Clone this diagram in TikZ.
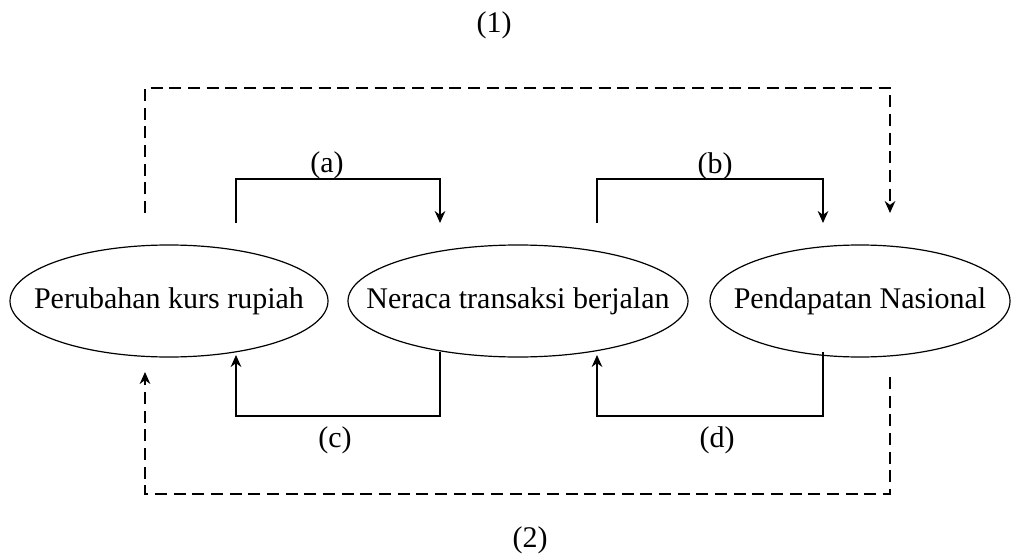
\documentclass[tikz,border=0pt]{standalone}
\usepackage{fontspec}
\setmainfont{Liberation Serif}
\usetikzlibrary{arrows.meta}
\begin{document}
\begin{tikzpicture}[x=0.75pt,y=-0.75pt,
  every node/.style={font=\fontsize{22.5}{27}\selectfont},
  ovalline/.style={draw,line width=0.9pt},
  lbl/.style={inner sep=0pt},
  solidarrow/.style={line width=1.1pt,-{Stealth[length=9pt,width=8pt]}},
  dasharrow/.style={line width=1.1pt,dash pattern=on 9pt off 5pt,-{Stealth[length=9pt,width=8pt]}}]
\useasboundingbox (0,0) rectangle (1020,556);
% ellipses
\node[lbl] (e1) at (169,301) {Perubahan kurs rupiah};
\node[lbl] (e2) at (518,301) {Neraca transaksi berjalan};
\node[lbl] (e3) at (860,301) {Pendapatan Nasional};
\draw[ovalline] (e1.center) ellipse [x radius=119.25pt, y radius=42pt];
\draw[ovalline] (e2.center) ellipse [x radius=127.5pt, y radius=42pt];
\draw[ovalline] (e3.center) ellipse [x radius=112.5pt, y radius=42pt];
% labels
\node[lbl] (l1) at (494,25) {(1)};
\node[lbl] (l2) at (530,540) {(2)};
\node[lbl] (la) at (327,165) {(a)};
\node[lbl] (lb) at (715,166) {(b)};
\node[lbl] (lc) at (335,440) {(c)};
\node[lbl] (ld) at (717,440) {(d)};
% connector end points
\coordinate (a1) at (236,223);
\coordinate (a2) at (440,223);
\coordinate (b1) at (597,223);
\coordinate (b2) at (823,223);
\coordinate (c1) at (440,352);
\coordinate (c2) at (236,355);
\coordinate (d1) at (823,352);
\coordinate (d2) at (597,355);
\coordinate (t1) at (145,213);
\coordinate (t2) at (890,213);
\coordinate (u1) at (890,377);
\coordinate (u2) at (145,372);
% (a)
\draw[solidarrow] (a1) |- (327,179) -| (a2);
% (b)
\draw[solidarrow] (b1) |- (715,179) -| (b2);
% (c)
\draw[solidarrow] (c1) |- (335,416) -| (c2);
% (d)
\draw[solidarrow] (d1) |- (717,416) -| (d2);
% (1) dashed
\draw[dasharrow] (t1) |- (500,88) -| (t2);
% (2) dashed
\draw[dasharrow] (u1) |- (500,494) -| (u2);
\end{tikzpicture}
\end{document}
